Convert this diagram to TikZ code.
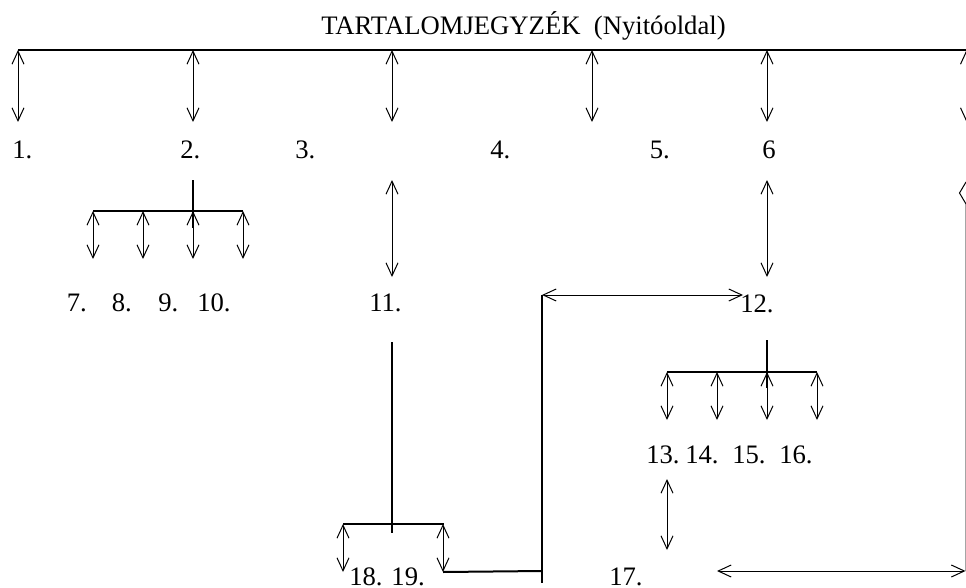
\documentclass[tikz,border=0pt]{standalone}
\usepackage{fontspec}
\setmainfont{Liberation Serif}
\usetikzlibrary{arrows.meta}

\begin{document}
\begin{tikzpicture}[x=0.75pt,y=-0.75pt,
  >={Straight Barb[length=9.75pt,width=9pt]},
  dbl/.style={<->,black,line width=0.75pt},
  bar/.style={black,line width=1.5pt},
  thinline/.style={black,line width=0.75pt},
  lbl/.style={text=black,anchor=base west,inner sep=0pt,font=\fontsize{20}{24}\selectfont}]
\useasboundingbox (0,0) rectangle (966,588);

% title and the main bar:
\node[lbl,anchor=base] (title) at (523.5,35) {TARTALOMJEGYZÉK\ \ (Nyitóoldal)};
\coordinate (barL) at (18,50);
\coordinate (barR) at (980,50);
\draw[bar] (barL) -- (barR);

% first level:
\coordinate (h1) at (18,50);   \coordinate (d1) at (18,122);
\coordinate (h2) at (193,50);  \coordinate (d2) at (193,122);
\coordinate (h3) at (392,50);  \coordinate (d3) at (392,122);
\coordinate (h4) at (592,50);  \coordinate (d4) at (592,122);
\coordinate (h5) at (767,50);  \coordinate (d5) at (767,122);
\coordinate (h6) at (966.5,50);  \coordinate (d6) at (966.5,122);
\draw[dbl] (h1) -- (d1);
\draw[dbl] (h2) -- (d2);
\draw[dbl] (h3) -- (d3);
\draw[dbl] (h4) -- (d4);
\draw[dbl] (h5) -- (d5);
\draw[dbl] (h6) -- (d6);
\node[lbl] (p1) at (12,158) {1.};
\node[lbl] (p2) at (180,158) {2.};
\node[lbl] (p3) at (295,158) {3.};
\node[lbl] (p4) at (490,158) {4.};
\node[lbl] (p5) at (649.5,158) {5.};
\node[lbl] (p6) at (762,158) {6};

% under 2.:
\coordinate (s2a) at (193,180);  \coordinate (s2b) at (193,228);
\coordinate (g2L) at (93,211);   \coordinate (g2R) at (243,211);
\draw[bar] (g2L) -- (g2R);
\draw[bar] (s2a) -- (s2b);
\coordinate (u7) at (93,211);   \coordinate (v7) at (93,259);
\coordinate (u8) at (143,211);  \coordinate (v8) at (143,259);
\coordinate (u9) at (193,211);  \coordinate (v9) at (193,259);
\coordinate (u10) at (243,211); \coordinate (v10) at (243,259);
\draw[dbl] (u7) -- (v7);
\draw[dbl] (u8) -- (v8);
\draw[dbl] (u9) -- (v9);
\draw[dbl] (u10) -- (v10);
\node[lbl] (p7) at (66.5,311) {7.};
\node[lbl] (p8) at (111.5,311) {8.};
\node[lbl] (p9) at (158,311) {9.};
\node[lbl] (p10) at (197,311) {10.};

% 11. and 12.:
\coordinate (u11) at (392,180);  \coordinate (v11) at (392,277);
\coordinate (u12) at (767,180);  \coordinate (v12) at (767,277);
\draw[dbl] (u11) -- (v11);
\draw[dbl] (u12) -- (v12);
\node[lbl] (p11) at (369,311) {11.};
\node[lbl] (p12) at (740,312) {12.};
\coordinate (k1) at (542,295);  \coordinate (k2) at (743,295);
\coordinate (k3) at (542,583);
\draw[dbl] (k1) -- (k2);
\draw[bar] (k1) -- (k3);

% under 12.:
\coordinate (s12a) at (767,340);  \coordinate (s12b) at (767,388);
\coordinate (g12L) at (667,372);  \coordinate (g12R) at (817,372);
\draw[bar] (g12L) -- (g12R);
\draw[bar] (s12a) -- (s12b);
\coordinate (u13) at (667,372);  \coordinate (v13) at (667,420);
\coordinate (u14) at (717,372);  \coordinate (v14) at (717,420);
\coordinate (u15) at (767,372);  \coordinate (v15) at (767,420);
\coordinate (u16) at (817,372);  \coordinate (v16) at (817,420);
\draw[dbl] (u13) -- (v13);
\draw[dbl] (u14) -- (v14);
\draw[dbl] (u15) -- (v15);
\draw[dbl] (u16) -- (v16);
\node[lbl] (p13) at (646,463) {13.};
\node[lbl] (p14) at (685,463) {14.};
\node[lbl] (p15) at (732,463) {15.};
\node[lbl] (p16) at (779,463) {16.};

% 17.:
\coordinate (u17) at (667,479);  \coordinate (v17) at (667,550);
\draw[dbl] (u17) -- (v17);
\node[lbl] (p17) at (609,585) {17.};
\coordinate (w1) at (717,571);  \coordinate (w2) at (965.5,571);
\draw[dbl] (w1) -- (w2);

% right edge:
\coordinate (r1) at (966,182);  \coordinate (r2) at (959.5,193);
\coordinate (r3) at (966,204);  \coordinate (r4) at (966,571);
\draw[thinline] (r1) -- (r2) -- (r3) -- (r4);

% under 11.:
\coordinate (s11a) at (392,342);  \coordinate (s11b) at (392,533);
\coordinate (g11L) at (343,524);  \coordinate (g11R) at (444,524);
\draw[bar] (g11L) -- (g11R);
\draw[bar] (s11a) -- (s11b);
\coordinate (u18) at (343,524);  \coordinate (v18) at (343,572);
\coordinate (u19) at (443,524);  \coordinate (v19) at (443,572);
\draw[dbl] (u18) -- (v18);
\draw[dbl] (u19) -- (v19);
\node[lbl] (p18) at (349,585) {18. 19.};
\coordinate (k4) at (542,571);
\draw[bar] (v19) -- (k4);

\end{tikzpicture}
\end{document}
